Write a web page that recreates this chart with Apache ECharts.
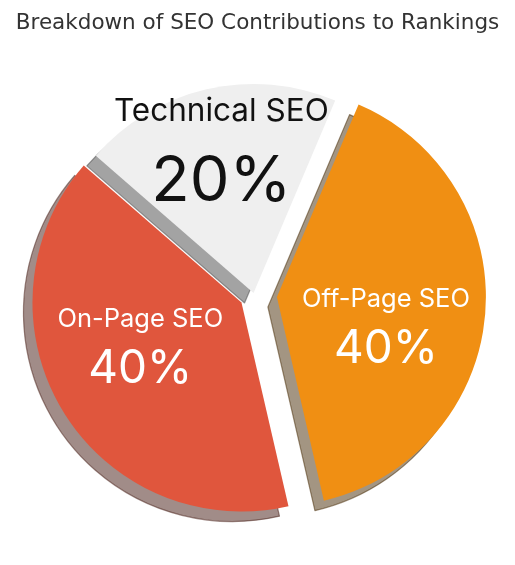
<!DOCTYPE html>
<html>
<head>
<meta charset="utf-8">
<title>Breakdown of SEO Contributions to Rankings</title>
<script src="https://cdn.jsdelivr.net/npm/echarts@6/dist/echarts.min.js"></script>
<style>
  html, body { margin: 0; padding: 0; background: #ffffff; }
  #chart { width: 515px; height: 565px; }
</style>
</head>
<body>
<div id="chart"></div>
<script>
// 数据
const categories = ["Technical SEO", "On-Page SEO", "Off-Page SEO"];
const shares = [20, 40, 40];

// 样式
const sliceColors = ["#efefef", "#e0563d", "#f08f13"];
const labelColors = ["#111111", "#ffffff", "#ffffff"];
const explode = [0.01, 0.07, 0.11]; // 相对半径的偏移（类似 matplotlib 的 explode）
const labelNudge = [[-8, -28], [-9, -7], [2, 25]];

(function () {
  const myChart = echarts.init(document.getElementById("chart"));
  const base = [254, 295]; // 未偏移时的圆心
  const radius = 209;
  const startAngle = 67;
  const shadowOffset = [-9, 10];
  const total = shares.reduce((a, b) => a + b, 0);

  // 阴影颜色：0.3 * rgb，透明度 0.5
  function shadowColor(hex) {
    const c = echarts.color.parse(hex);
    return "rgba(" + Math.round(c[0] * 0.3) + "," + Math.round(c[1] * 0.3) + "," + Math.round(c[2] * 0.3) + ",0.5)";
  }

  // 每个扇区的中线角度（逆时针）
  let acc = startAngle;
  const midAngles = shares.map(function (v) {
    const a = (v / total) * 360;
    const m = acc + a / 2;
    acc += a;
    return (m * Math.PI) / 180;
  });

  // 文字大小：Technical SEO 那块更大
  function sizes(i) {
    return i === 0 ? { name: 31.5, nameLh: 44, pct: 63, pctLh: 98 } : { name: 25.5, nameLh: 36, pct: 46, pctLh: 64 };
  }

  function buildSeries(i, isShadow) {
    const off = explode[i] * radius;
    const cx = base[0] + Math.cos(midAngles[i]) * off + (isShadow ? shadowOffset[0] : 0);
    const cy = base[1] - Math.sin(midAngles[i]) * off + (isShadow ? shadowOffset[1] : 0);
    const s = sizes(i);
    return {
      type: "pie",
      z: isShadow ? 1 : 2,
      silent: true,
      animation: false,
      center: [cx, cy],
      radius: radius,
      startAngle: startAngle,
      clockwise: false,
      avoidLabelOverlap: false,
      emphasis: { disabled: true },
      labelLine: { show: false },
      label: {
        show: false,
        position: "inside",
        formatter: "{n|{b}}\n{p|{d}%}",
        color: labelColors[i],
        fontFamily: "Inter",
        rich: {
          n: { fontSize: s.name, lineHeight: s.nameLh, color: labelColors[i], fontFamily: "Inter" },
          p: { fontSize: s.pct, lineHeight: s.pctLh, color: labelColors[i], fontFamily: "Inter" },
        },
      },
      labelLayout: function () {
        return { dx: labelNudge[i][0], dy: labelNudge[i][1] };
      },
      data: categories.map(function (name, j) {
        const mine = j === i;
        let style;
        if (!mine) {
          style = { color: "rgba(0,0,0,0)", borderWidth: 0 };
        } else if (isShadow) {
          style = { color: shadowColor(sliceColors[i]), borderColor: shadowColor(sliceColors[i]), borderWidth: 1.2 };
        } else {
          style = { color: sliceColors[i], borderWidth: 0 };
        }
        return {
          name: name,
          value: shares[j],
          itemStyle: style,
          label: { show: mine && !isShadow },
        };
      }),
    };
  }

  // 先画阴影，再画扇区
  const series = [];
  categories.forEach(function (c, i) { series.push(buildSeries(i, true)); });
  categories.forEach(function (c, i) { series.push(buildSeries(i, false)); });

  const option = {
    backgroundColor: "#ffffff",
    title: {
      text: "Breakdown of SEO Contributions to Rankings",
      left: "center",
      top: 7,
      textStyle: {
        fontFamily: "DejaVu Sans",
        fontSize: 21.5,
        fontWeight: "normal",
        color: "#333333",
      },
    },
    series: series,
  };

  myChart.setOption(option);
  window.addEventListener("resize", function () {
    myChart.resize();
  });
})();
</script>
</body>
</html>
